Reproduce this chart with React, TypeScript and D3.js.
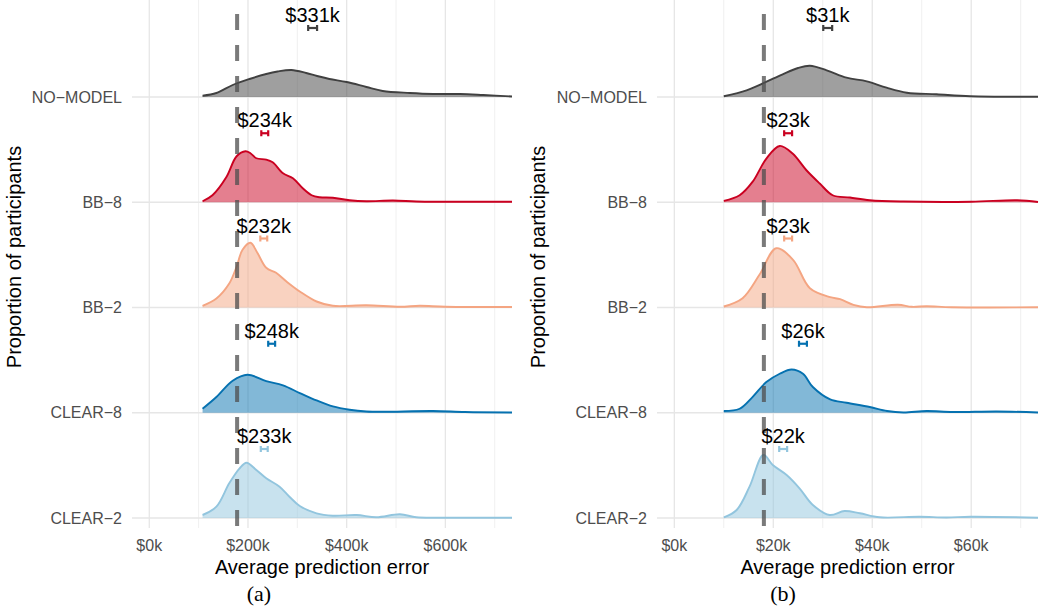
import React from "react";
import * as d3 from "d3";

const categories = ["NO−MODEL", "BB−8", "BB−2", "CLEAR−8", "CLEAR−2"];
const lineColors = ["#404040", "#CA0020", "#F4A582", "#0571B0", "#92C5DE"];

// Panel (a): values in $k
const meansA = [331, 234, 232, 248, 233];
const ciA = [9, 7, 7, 7, 7];
const thresholdA = 178;
const ticksMajorA = [0, 200, 400, 600];
const ticksMinorA = [100, 300, 500, 700];
const tickLabelsA = ["$0k", "$200k", "$400k", "$600k"];

const noModelA: [number, number][] = [[108,0.013],[136,0.04],[169,0.12],[203,0.18],[237,0.23],[260,0.255],[288,0.27],[318,0.24],[340,0.21],[365,0.18],[400,0.15],[440,0.10],[473,0.06],[528,0.04],[575,0.03],[630,0.03],[677,0.02],[735,0.005]];
const bb8A: [number, number][] = [[108,0.01],[128,0.07],[156,0.25],[177,0.46],[195,0.51],[205,0.49],[217,0.44],[237,0.427],[250,0.40],[271,0.29],[291,0.24],[311,0.14],[329,0.07],[345,0.05],[372,0.045],[406,0.02],[440,0.01],[494,0.017],[541,0.007],[600,0.005],[735,0.005]];
const bb2A: [number, number][] = [[108,0.017],[136,0.09],[162,0.24],[177,0.41],[189,0.577],[205,0.647],[219,0.547],[237,0.397],[257,0.347],[278,0.26],[305,0.16],[339,0.06],[372,0.017],[440,0.023],[508,0.007],[548,0.017],[600,0.007],[735,0.005]];
const clear8A: [number, number][] = [[108,0.04],[136,0.157],[169,0.32],[199,0.38],[237,0.317],[271,0.273],[305,0.197],[339,0.123],[372,0.063],[406,0.03],[440,0.013],[473,0.01],[575,0.017],[640,0.007],[735,0.003]];
const clear2A: [number, number][] = [[108,0.03],[136,0.113],[162,0.347],[183,0.497],[197,0.553],[217,0.48],[237,0.397],[264,0.313],[284,0.213],[305,0.12],[339,0.047],[372,0.023],[420,0.03],[460,0.007],[508,0.037],[541,0.007],[600,0.003],[735,0.003]];

// Panel (b)
const meansB = [31, 23, 23, 26, 22];
const ciB = [0.9, 0.8, 0.8, 0.8, 0.8];
const thresholdB = 18.1;
const ticksMajorB = [0, 20, 40, 60];
const ticksMinorB = [10, 30, 50, 70];
const tickLabelsB = ["$0k", "$20k", "$40k", "$60k"];

const noModelB: [number, number][] = [[10,0.007],[14.6,0.067],[18.2,0.143],[21.9,0.227],[25,0.29],[27.4,0.313],[30.8,0.267],[34.8,0.193],[38.9,0.157],[42.9,0.093],[47,0.043],[53,0.027],[59.8,0.007],[73.5,0.003]];
const bb8B: [number, number][] = [[10,0.013],[13.2,0.07],[15.8,0.203],[18.6,0.437],[21.3,0.563],[23.9,0.487],[26.7,0.32],[29.4,0.187],[32,0.07],[35.5,0.047],[39.5,0.02],[46.3,0.007],[60,0.005],[69.3,0.02],[73.5,0.003]];
const bb2B: [number, number][] = [[10,0.01],[13.8,0.093],[17.2,0.327],[20.6,0.593],[24,0.477],[27.4,0.193],[31.5,0.103],[33.5,0.083],[36.2,0.027],[38.9,0.003],[45.2,0.027],[48,0.007],[51,0.013],[56,0.003],[73.5,0.002]];
const clear8B: [number, number][] = [[10,0.017],[13.2,0.04],[15.8,0.157],[18.6,0.307],[21.3,0.39],[23.7,0.433],[26,0.39],[28,0.257],[31.5,0.133],[34.8,0.1],[39.5,0.057],[43,0.017],[46.3,0.003],[51,0.017],[56.3,0.007],[65.2,0.013],[73.5,0.003]];
const clear2B: [number, number][] = [[10,0.007],[12.6,0.08],[15.2,0.313],[18,0.63],[19.9,0.53],[22.7,0.43],[25.3,0.297],[28,0.13],[31.4,0.03],[34.4,0.07],[37.5,0.047],[41.5,0.007],[49.6,0.013],[55,0.005],[59.8,0.013],[73.5,0.003]];

const densA = [noModelA, bb8A, bb2A, clear8A, clear2A];
const densB = [noModelB, bb8B, bb2B, clear8B, clear2B];

const SANS = "'Liberation Sans', Arial, Helvetica, sans-serif";
const SERIF = "'Liberation Serif', 'Times New Roman', serif";

type PanelProps = {
  x0: number;
  left: number;
  right: number;
  domain: [number, number];
  dens: [number, number][][];
  means: number[];
  ci: number[];
  threshold: number;
  major: number[];
  minor: number[];
  tickLabels: string[];
  caption: string;
};

function Panel(p: PanelProps) {
  const x = d3.scaleLinear().domain(p.domain).range([p.left, p.right]);
  const y = d3.scalePoint<string>().domain(categories).range([97, 518]);
  const h = d3.scaleLinear().domain([0, 1]).range([0, 100]);
  const top = 0;
  const bottom = 528;
  const fmt = (v: number) => `$${v}k`;
  return (
    <g>
      {p.minor.map((t) => (
        <line key={"mi" + t} x1={x(t)} x2={x(t)} y1={top} y2={bottom} stroke="#ededed" strokeWidth={0.9} />
      ))}
      {p.major.map((t) => (
        <line key={"ma" + t} x1={x(t)} x2={x(t)} y1={top} y2={bottom} stroke="#e6e6e6" strokeWidth={1.3} />
      ))}
      {categories.map((c) => (
        <line key={"h" + c} x1={p.left} x2={p.right} y1={y(c)} y2={y(c)} stroke="#e6e6e6" strokeWidth={1.6} />
      ))}
      {categories.map((c, i) => {
        const base = y(c) as number;
        const area = d3
          .area<[number, number]>()
          .x((d) => x(d[0]))
          .y0(base)
          .y1((d) => base - h(d[1]))
          .curve(d3.curveCatmullRom.alpha(0.5));
        const line = d3
          .line<[number, number]>()
          .x((d) => x(d[0]))
          .y((d) => base - h(d[1]))
          .curve(d3.curveCatmullRom.alpha(0.5));
        return (
          <g key={"r" + c}>
            <path d={area(p.dens[i]) || ""} fill={lineColors[i]} fillOpacity={0.5} />
            <path d={line(p.dens[i]) || ""} fill="none" stroke={lineColors[i]} strokeWidth={1.9} />
          </g>
        );
      })}
      <line
        x1={x(p.threshold)}
        x2={x(p.threshold)}
        y1={14}
        y2={bottom}
        stroke="#4d4d4d"
        strokeOpacity={0.75}
        strokeWidth={4}
        strokeDasharray="16 15"
      />
      {categories.map((c, i) => {
        const base = y(c) as number;
        const ey = base - 69;
        const xl = x(p.means[i] - p.ci[i]);
        const xr = x(p.means[i] + p.ci[i]);
        return (
          <g key={"e" + c}>
            <line x1={xl} x2={xr} y1={ey} y2={ey} stroke={lineColors[i]} strokeWidth={2.2} />
            <line x1={xl} x2={xl} y1={ey - 3} y2={ey + 3} stroke={lineColors[i]} strokeWidth={2.2} />
            <line x1={xr} x2={xr} y1={ey - 3} y2={ey + 3} stroke={lineColors[i]} strokeWidth={2.2} />
            <text x={x(p.means[i])} y={base - 75} textAnchor="middle" fontFamily={SANS} fontSize={20} fill="#000">
              {fmt(p.means[i])}
            </text>
          </g>
        );
      })}
      {categories.map((c) => (
        <text key={"l" + c} x={p.left - 10} y={y(c)} dy="0.35em" textAnchor="end" fontFamily={SANS} fontSize={16} fill="#4d4d4d">
          {c}
        </text>
      ))}
      {p.major.map((t, i) => (
        <text key={"t" + t} x={x(t)} y={551} textAnchor="middle" fontFamily={SANS} fontSize={16} fill="#4d4d4d">
          {p.tickLabels[i]}
        </text>
      ))}
      <text x={(p.left + p.right) / 2} y={574} textAnchor="middle" fontFamily={SANS} fontSize={20} fill="#000">
        Average prediction error
      </text>
      <text
        transform={`translate(${p.x0 + 21},${257}) rotate(-90)`}
        textAnchor="middle"
        fontFamily={SANS}
        fontSize={20}
        fill="#000"
      >
        Proportion of participants
      </text>
      <text x={p.x0 + 259} y={601} textAnchor="middle" fontFamily={SERIF} fontSize={22} fill="#000">
        {p.caption}
      </text>
    </g>
  );
}

export default function App() {
  return (
    <svg
      width={1041}
      height={613}
      style={{ position: "absolute", left: 0, top: 0, background: "#fff" }}
    >
      <rect width={1041} height={613} fill="#fff" />
      <Panel
        x0={0}
        left={132}
        right={512}
        domain={[-35, 735]}
        dens={densA}
        means={meansA}
        ci={ciA}
        threshold={thresholdA}
        major={ticksMajorA}
        minor={ticksMinorA}
        tickLabels={tickLabelsA}
        caption="(a)"
      />
      <Panel
        x0={524}
        left={657}
        right={1038}
        domain={[-3.5, 73.5]}
        dens={densB}
        means={meansB}
        ci={ciB}
        threshold={thresholdB}
        major={ticksMajorB}
        minor={ticksMinorB}
        tickLabels={tickLabelsB}
        caption="(b)"
      />
    </svg>
  );
}
